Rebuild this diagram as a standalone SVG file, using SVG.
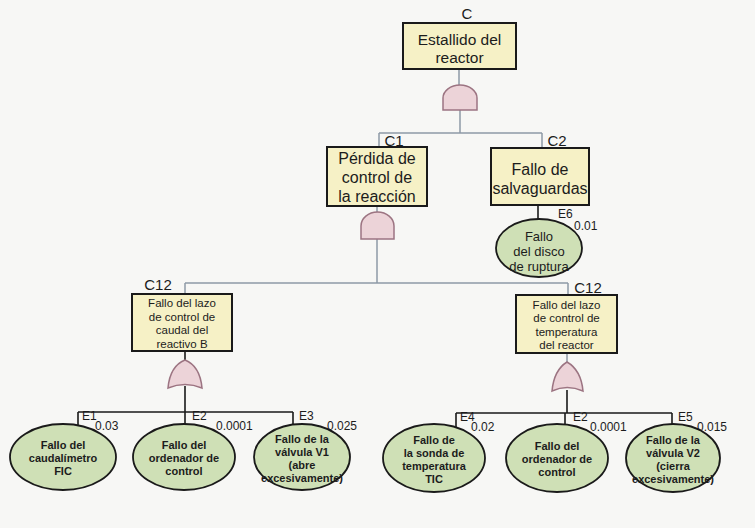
<svg xmlns="http://www.w3.org/2000/svg" width="755" height="528" viewBox="0 0 755 528">
<style>
text{font-family:"Liberation Sans",Arial,sans-serif;fill:#1c1c1c;text-anchor:middle}
.box{fill:#f6f1c6;stroke:#1a1a1a;stroke-width:2}
.gate{fill:#ecd3d8;stroke:#9c7482;stroke-width:1.5}
.ev{fill:#cfe0b6;stroke:#1a1a1a;stroke-width:1.8}
.up{stroke:#8e9aa6;stroke-width:1.5;fill:none}
.lo{stroke:#1a1a1a;stroke-width:1.6;fill:none}
.big{font-size:16px}
.top{font-size:15.5px}
.e6{font-size:13px}
.mid{font-size:11.5px}
.ell{font-size:11px;font-weight:bold}
.lab{font-size:15px}
.e{font-size:12px;text-anchor:start}
</style>
<rect width="755" height="528" fill="#f7f7f5"/>
<g id="connectors">
<path class="up" d="M459,69V85M460,110V133M379,133H542M379,133V147M542,133V148"/>
<path class="up" d="M377,206V212M377,239V283M185,283H568M185,283V294M568,283V295"/>
<path class="lo" d="M538,205V219"/>
<path class="lo" d="M185,351V360M185,386V412M78,412H293M78,412V426M185,412V424M293,412V426"/>
<path class="up" d="M567,353V362"/>
<path class="lo" d="M567,390V413M456,413H672M456,413V427M565,413V424M672,413V427"/>
</g>
<g id="C">
<text class="lab" x="467" y="19">C</text>
<rect class="box" x="403" y="23" width="113" height="46"/>
<text class="top" x="459.5" y="45">Estallido del</text>
<text class="top" x="459.5" y="63">reactor</text>
</g>
<g id="gate-C">
<path class="gate" d="M443,110V98A17,13 0 0 1 477,98V110Z"/>
</g>
<g id="C1">
<text class="lab" x="394" y="146">C1</text>
<rect class="box" x="327" y="147" width="100" height="59"/>
<text class="big" x="377" y="164">Pérdida de</text>
<text class="big" x="377" y="183">control de</text>
<text class="big" x="377" y="202">la reacción</text>
</g>
<g id="gate-C1">
<path class="gate" d="M361,239V226A16.5,14 0 0 1 394,226V239Z"/>
</g>
<g id="C2">
<text class="lab" x="557" y="146">C2</text>
<rect class="box" x="491" y="148" width="98" height="57"/>
<text class="big" x="540" y="175">Fallo de</text>
<text class="big" x="540" y="194">salvaguardas</text>
</g>
<g id="E6">
<ellipse class="ev" cx="539" cy="248" rx="43" ry="29"/>
<text class="e6" x="539" y="241">Fallo</text>
<text class="e6" x="539" y="256">del disco</text>
<text class="e6" x="539" y="271">de ruptura</text>
<text class="e" x="558" y="218">E6</text>
<text class="e" x="574" y="230">0.01</text>
</g>
<g id="C12-caudal">
<text class="lab" x="158" y="290">C12</text>
<rect class="box" x="132" y="294" width="100" height="57"/>
<text class="mid" x="182" y="307">Fallo del lazo</text>
<text class="mid" x="182" y="320.5">de control de</text>
<text class="mid" x="182" y="334">caudal del</text>
<text class="mid" x="182" y="347.5">reactivo B</text>
</g>
<g id="gate-C12-caudal">
<path class="gate" d="M168,388Q185,381 202,388Q200,366 185,360Q170,366 168,388Z"/>
</g>
<g id="C12-temp">
<text class="lab" x="588" y="293">C12</text>
<rect class="box" x="516" y="295" width="101" height="58"/>
<text class="mid" x="566.5" y="308.5">Fallo del lazo</text>
<text class="mid" x="566.5" y="322">de control de</text>
<text class="mid" x="566.5" y="335.5">temperatura</text>
<text class="mid" x="566.5" y="349">del reactor</text>
</g>
<g id="gate-C12-temp">
<path class="gate" d="M552,391Q567,384 583,391Q581,370 567,362Q554,370 552,391Z"/>
</g>
<g id="E1">
<ellipse class="ev" cx="63" cy="457" rx="53" ry="33"/>
<text class="ell" x="63" y="449">Fallo del</text>
<text class="ell" x="63" y="462">caudalímetro</text>
<text class="ell" x="63" y="475">FIC</text>
<text class="e" x="82" y="420">E1</text>
<text class="e" x="95" y="430">0.03</text>
</g>
<g id="E2a">
<ellipse class="ev" cx="184" cy="457" rx="51" ry="33"/>
<text class="ell" x="184" y="449">Fallo del</text>
<text class="ell" x="184" y="462">ordenador de</text>
<text class="ell" x="184" y="475">control</text>
<text class="e" x="192" y="420">E2</text>
<text class="e" x="216" y="430">0.0001</text>
</g>
<g id="E3">
<ellipse class="ev" cx="302" cy="457" rx="48" ry="33"/>
<text class="ell" x="302" y="443">Fallo de la</text>
<text class="ell" x="302" y="456">válvula V1</text>
<text class="ell" x="302" y="469">(abre</text>
<text class="ell" x="302" y="482">excesivamente)</text>
<text class="e" x="299" y="420">E3</text>
<text class="e" x="327" y="430">0.025</text>
</g>
<g id="E4">
<ellipse class="ev" cx="434" cy="458" rx="51" ry="34"/>
<text class="ell" x="434" y="444">Fallo de</text>
<text class="ell" x="434" y="457">la sonda de</text>
<text class="ell" x="434" y="470">temperatura</text>
<text class="ell" x="434" y="483">TIC</text>
<text class="e" x="460" y="421">E4</text>
<text class="e" x="471" y="431">0.02</text>
</g>
<g id="E2b">
<ellipse class="ev" cx="557" cy="458" rx="51" ry="34"/>
<text class="ell" x="557" y="450">Fallo del</text>
<text class="ell" x="557" y="463">ordenador de</text>
<text class="ell" x="557" y="476">control</text>
<text class="e" x="573" y="421">E2</text>
<text class="e" x="590" y="431">0.0001</text>
</g>
<g id="E5">
<ellipse class="ev" cx="673" cy="458" rx="47" ry="34"/>
<text class="ell" x="673" y="444">Fallo de la</text>
<text class="ell" x="673" y="457">válvula V2</text>
<text class="ell" x="673" y="470">(cierra</text>
<text class="ell" x="673" y="483">excesivamente)</text>
<text class="e" x="678" y="421">E5</text>
<text class="e" x="697" y="431">0.015</text>
</g>
</svg>
